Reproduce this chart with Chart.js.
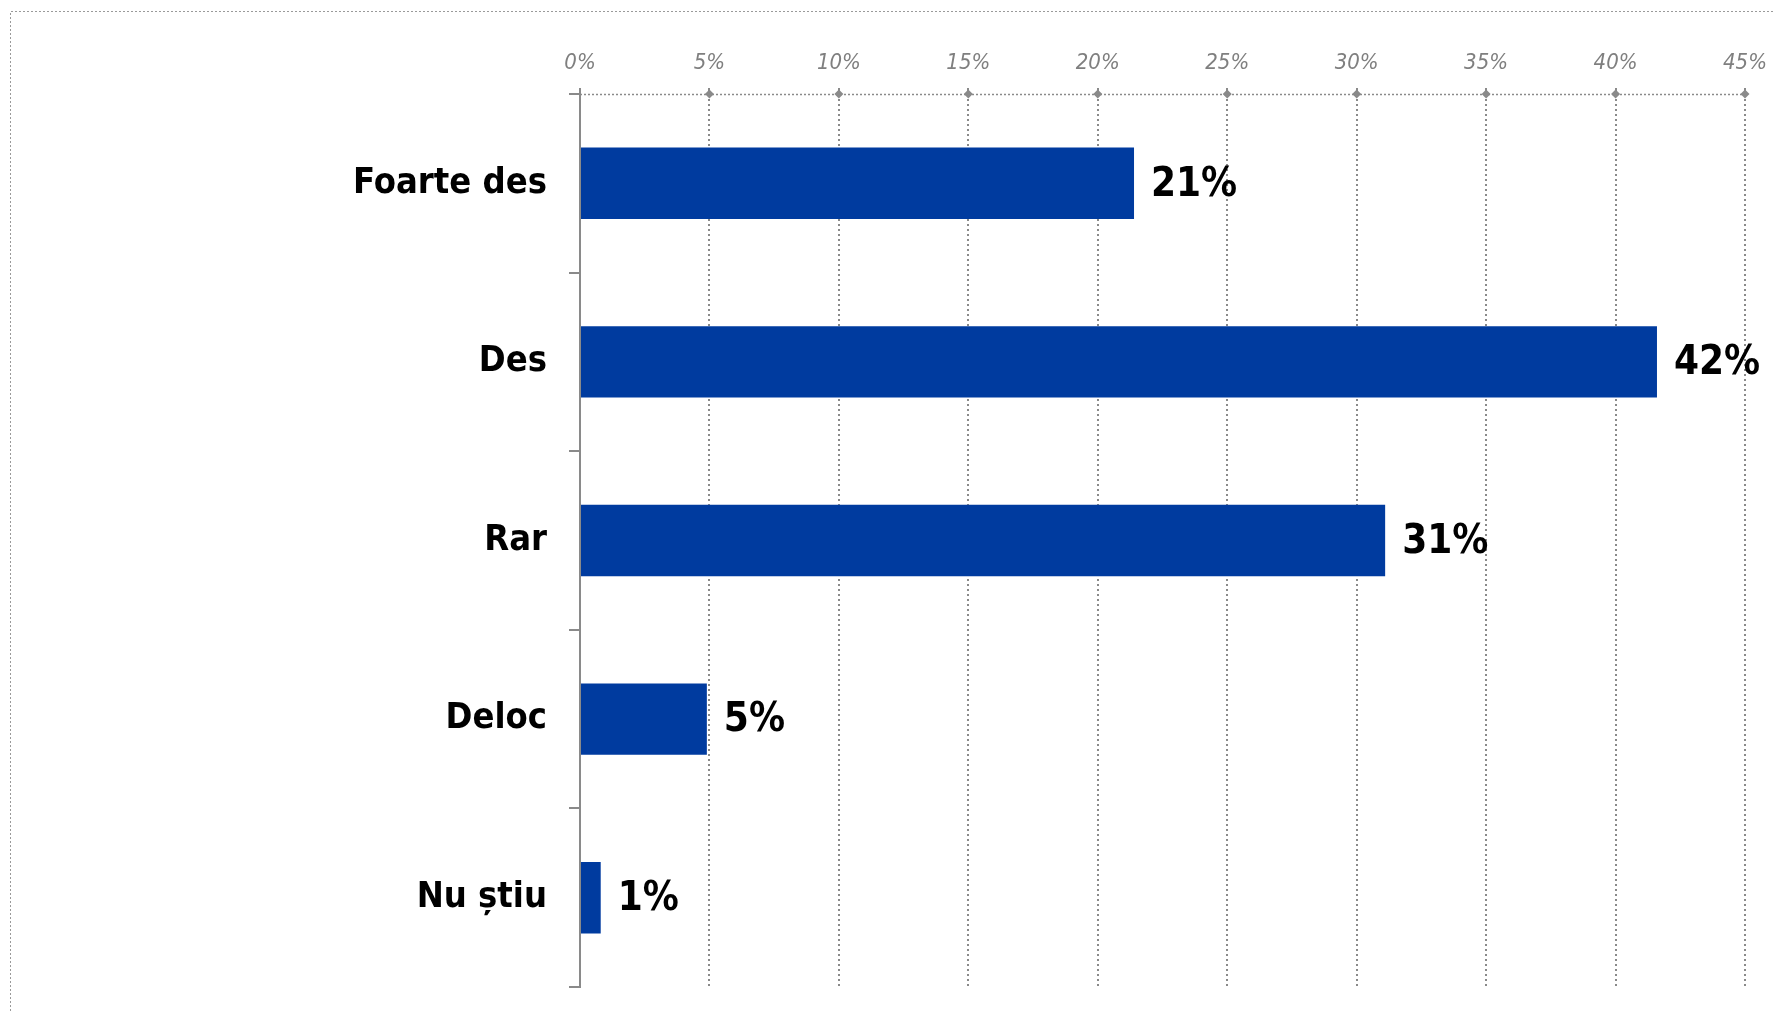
<!DOCTYPE html>
<html>
<head>
<meta charset="utf-8">
<style>
  html, body { margin: 0; padding: 0; background: #fff; }
  canvas { display: block; }
</style>
<script src="https://cdn.jsdelivr.net/npm/chart.js@4.4.0/dist/chart.umd.min.js"></script>
</head>
<body>
<canvas id="freqChart" width="1773" height="1011"></canvas>
<script>
// Categories and values
const categories = ["Foarte des", "Des", "Rar", "Deloc", "Nu știu"];
const values = [21.4, 41.6, 31.1, 4.9, 0.8];
const valueLabels = ["21%", "42%", "31%", "5%", "1%"];

const FONT = '"DejaVu Sans Condensed", "Liberation Sans", sans-serif';
const GRAY = "#8a8a8a";

// Frame, dotted top axis line, diamonds and value labels
const decorPlugin = {
    id: "decor",
    beforeDraw(chart) {
        const ctx = chart.ctx;
        ctx.save();
        ctx.strokeStyle = "#9a9a9a";
        ctx.lineWidth = 1;
        ctx.setLineDash([2, 2]);
        ctx.beginPath();
        ctx.moveTo(10.5, chart.height);
        ctx.lineTo(10.5, 11.5);
        ctx.lineTo(chart.width, 11.5);
        ctx.stroke();
        ctx.restore();
    },
    afterDatasetsDraw(chart) {
        const ctx = chart.ctx;
        const xs = chart.scales.x;
        const area = chart.chartArea;

        // dotted axis line on top
        ctx.save();
        ctx.strokeStyle = GRAY;
        ctx.lineWidth = 1.5;
        ctx.setLineDash([2, 2]);
        ctx.beginPath();
        ctx.moveTo(area.left, area.top + 0.5);
        ctx.lineTo(area.right, area.top + 0.5);
        ctx.stroke();
        ctx.restore();

        // diamond markers on the tick positions
        ctx.save();
        ctx.fillStyle = GRAY;
        xs.ticks.forEach(t => {
            if (t.value === 0) return;
            const px = xs.getPixelForValue(t.value);
            ctx.beginPath();
            ctx.moveTo(px, area.top - 4.5);
            ctx.lineTo(px + 4.5, area.top);
            ctx.lineTo(px, area.top + 4.5);
            ctx.lineTo(px - 4.5, area.top);
            ctx.closePath();
            ctx.fill();
        });
        ctx.restore();

        // value labels
        const meta = chart.getDatasetMeta(0);
        ctx.save();
        ctx.fillStyle = "#000";
        ctx.font = "bold 40px " + FONT;
        ctx.textAlign = "left";
        ctx.textBaseline = "middle";
        meta.data.forEach((bar, i) => {
            ctx.fillText(valueLabels[i], bar.x + 17, bar.y + 2);
        });
        ctx.restore();
    }
};

const ctx = document.getElementById("freqChart").getContext("2d");
new Chart(ctx, {
    type: "bar",
    data: {
        labels: categories,
        datasets: [{
            data: values,
            backgroundColor: "#003b9f",
            borderWidth: 0,
            barPercentage: 0.4,
            categoryPercentage: 1.0,
        }],
    },
    options: {
        indexAxis: "y",
        responsive: false,
        animation: false,
        layout: { padding: { top: 0, right: 28, bottom: 24, left: 0 } },
        plugins: {
            legend: { display: false },
            tooltip: { enabled: false },
        },
        scales: {
            x: {
                position: "top",
                min: 0,
                max: 45,
                ticks: {
                    stepSize: 5,
                    padding: 12,
                    color: "#7f7f7f",
                    font: { family: FONT, size: 22, style: "italic" },
                    callback: v => v + "%",
                },
                grid: {
                    color: GRAY,
                    lineWidth: 2,
                    tickLength: 6,
                },
                border: { display: false, dash: [2, 3] },
                afterFit(scale) {
                    scale.height = 94;
                    scale.paddingLeft = 0;
                    scale.paddingRight = 0;
                },
            },
            y: {
                ticks: {
                    padding: 22,
                    color: "#000",
                    font: { family: FONT, size: 36, weight: "bold" },
                },
                grid: {
                    offset: true,
                    drawOnChartArea: false,
                    color: GRAY,
                    lineWidth: 2,
                    tickLength: 11,
                },
                border: { display: true, color: GRAY, width: 2 },
                afterFit(scale) {
                    scale.width = 580;
                    scale.paddingTop = 0;
                    scale.paddingBottom = 0;
                },
            },
        },
    },
    plugins: [decorPlugin],
});
</script>
</body>
</html>
